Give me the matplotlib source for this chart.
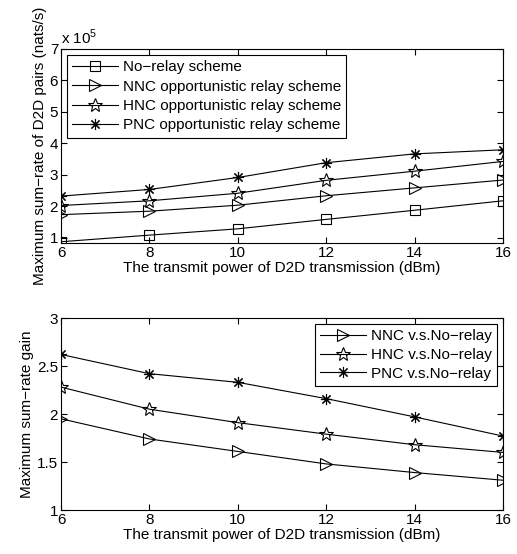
import matplotlib
matplotlib.use("Agg")
import matplotlib.pyplot as plt

plt.rcParams['font.family'] = ['Liberation Sans', 'DejaVu Sans']
plt.rcParams['mathtext.fontset'] = 'custom'
plt.rcParams['mathtext.rm'] = 'Liberation Sans'

power = [6, 8, 10, 12, 14, 16]

# sum-rate, in units of 1e5 nats/s
rate_norelay = [0.88, 1.09, 1.29, 1.59, 1.88, 2.18]
rate_nnc = [1.74, 1.85, 2.04, 2.34, 2.59, 2.84]
rate_hnc = [2.03, 2.18, 2.42, 2.83, 3.12, 3.43]
rate_pnc = [2.33, 2.54, 2.92, 3.39, 3.67, 3.80]

# gain vs no-relay
gain_nnc = [1.95, 1.74, 1.61, 1.48, 1.39, 1.31]
gain_hnc = [2.28, 2.05, 1.91, 1.79, 1.68, 1.60]
gain_pnc = [2.62, 2.42, 2.33, 2.16, 1.97, 1.77]

asterisk = (8, 2, 0)
fs = 11

fig = plt.figure(figsize=(5.17, 5.54), dpi=100)
W, H = 517.0, 554.0
ax1 = fig.add_axes([61 / W, 1 - 243 / H, 442 / W, 194 / H])
ax2 = fig.add_axes([61 / W, 1 - 510 / H, 442 / W, 192 / H])

style = dict(color='black', lw=0.8, ms=8, mfc='none', mew=0.8)
star = dict(style, ms=10)

ax1.plot(power, rate_norelay, marker='s', label='No\u2212relay scheme', **dict(style, ms=6.5))
ax1.plot(power, rate_nnc, marker='>', label='NNC opportunistic relay scheme', **style)
ax1.plot(power, rate_hnc, marker='*', label='HNC opportunistic relay scheme', **star)
ax1.plot(power, rate_pnc, marker=asterisk, label='PNC opportunistic relay scheme', **style)
ax1.set_xlim(6, 16)
ax1.set_ylim(0.84, 7)
ax1.set_yticks([1, 2, 3, 4, 5, 6, 7])
ax1.set_xticks(power)
ax1.set_xlabel('The transmit power of D2D transmission (dBm)', fontsize=fs, labelpad=1)
ax1.set_ylabel('Maximum sum\u2212rate of D2D pairs (nats/s)', fontsize=fs, labelpad=2)
ax1.text(0.0, 1.01, r'x 10$^5$', transform=ax1.transAxes, fontsize=fs, ha='left', va='bottom')
leg1 = ax1.legend(loc='upper left', fontsize=fs, fancybox=False, edgecolor='black',
                  framealpha=1, handlelength=3, borderaxespad=0.4, labelspacing=0.35,
                  borderpad=0.35, handletextpad=0.3)
leg1.get_frame().set_linewidth(0.8)

ax2.plot(power, gain_nnc, marker='>', label='NNC v.s.No\u2212relay', **style)
ax2.plot(power, gain_hnc, marker='*', label='HNC v.s.No\u2212relay', **star)
ax2.plot(power, gain_pnc, marker=asterisk, label='PNC v.s.No\u2212relay', **style)
ax2.set_xlim(6, 16)
ax2.set_ylim(1, 3)
ax2.set_yticks([1, 1.5, 2, 2.5, 3])
ax2.set_yticklabels(['1', '1.5', '2', '2.5', '3'])
ax2.set_xticks(power)
ax2.set_xlabel('The transmit power of D2D transmission (dBm)', fontsize=fs, labelpad=1)
ax2.set_ylabel('Maximum sum\u2212rate gain', fontsize=fs, labelpad=2)
leg2 = ax2.legend(loc='upper right', fontsize=fs, fancybox=False, edgecolor='black',
                  framealpha=1, handlelength=3, borderaxespad=0.4, labelspacing=0.3,
                  borderpad=0.35, handletextpad=0.3)
leg2.get_frame().set_linewidth(0.8)

for ax in (ax1, ax2):
    ax.tick_params(direction='in', top=True, right=True, labelsize=fs, length=4, pad=2)
    for s in ax.spines.values():
        s.set_linewidth(0.8)

fig.savefig('out.png', dpi=100)
